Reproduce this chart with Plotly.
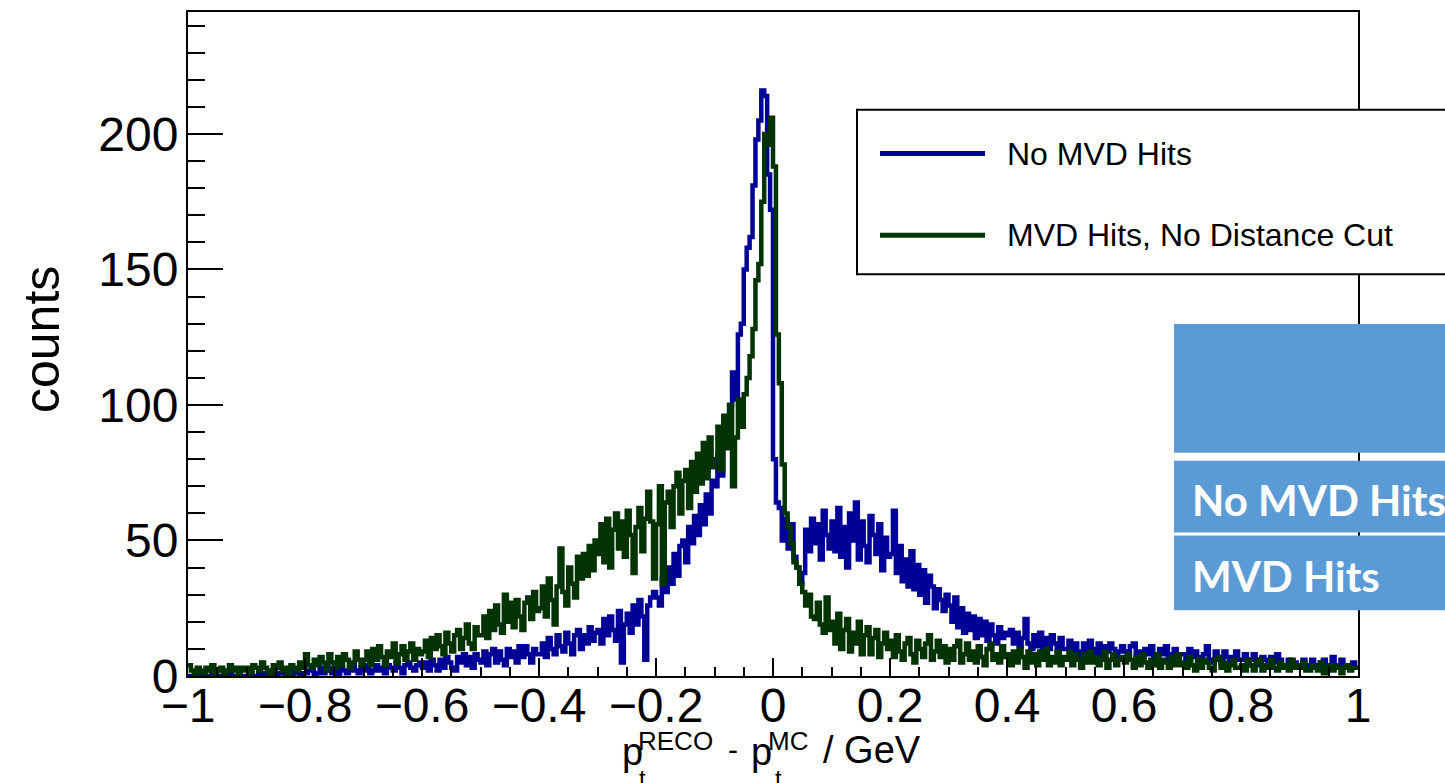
import numpy as np
import plotly.graph_objects as go

# ---------------- data ----------------
X_MIN, X_MAX, N_BINS = -1.0, 1.0, 400

green_counts = [
    4,2,1,3,2,1,3,2,4,1,2,3,1,2,4,2,3,1,3,2,
    3,1,4,3,2,5,3,2,1,4,3,5,2,3,1,4,3,2,5,3,
    8,4,3,6,4,7,5,2,8,5,3,7,4,8,6,3,5,9,6,4,
    6,9,4,10,6,11,7,4,9,7,12,5,8,11,6,9,12,6,10,8,
    9,13,7,14,10,15,11,8,16,12,9,15,17,10,14,19,12,10,18,15,
    15,22,14,24,17,26,19,16,30,20,27,18,28,22,17,27,29,21,31,24,
    25,33,22,36,28,19,33,47,31,26,40,34,29,44,36,45,37,48,39,50,
    45,56,42,58,40,54,60,47,57,44,61,52,38,55,62,46,58,68,57,36,
    56,70,34,64,68,55,70,75,60,72,76,62,79,68,82,71,86,73,88,77,
    80,92,76,96,84,100,70,88,102,92,104,110,118,128,146,152,175,200,196,206,
    188,126,108,78,60,55,49,42,40,34,31,26,30,22,21,27,19,16,29,17,
    20,12,23,10,17,21,9,16,12,20,8,15,18,8,14,17,7,12,16,10,
    13,7,15,9,6,12,14,8,5,13,10,7,12,15,6,9,13,7,11,5,
    10,6,11,13,5,8,12,6,9,5,11,7,4,10,12,6,8,5,11,7,
    8,4,9,5,10,7,3,9,5,8,4,9,6,10,4,7,5,9,4,7,
    6,9,4,8,6,3,8,5,9,5,7,4,6,9,3,6,8,4,6,7,
    5,8,6,3,7,4,8,5,3,6,4,8,3,6,5,3,7,4,8,4,
    5,3,7,4,2,6,3,6,5,3,2,6,7,3,5,2,4,6,3,3,
    4,2,6,4,2,5,6,2,4,3,6,3,2,5,3,4,2,6,3,4,
    3,5,2,2,4,3,2,5,1,3,4,2,4,3,1,3,4,2,3,3,
]

blue_counts = [
    0,0,0,1,0,0,0,0,1,0,0,0,0,0,1,0,0,0,0,0,
    0,1,0,0,1,0,1,0,0,2,0,1,1,0,1,0,2,1,0,1,
    1,2,2,0,1,3,1,2,3,1,2,0,3,2,1,2,4,2,1,3,
    2,4,1,2,4,2,3,1,4,3,2,5,3,1,4,5,3,2,4,5,
    3,5,2,6,4,2,6,3,7,5,3,2,7,5,8,4,7,3,8,6,
    5,9,4,8,10,5,9,6,4,10,7,9,5,11,7,11,8,5,10,8,
    8,12,7,14,10,8,15,11,9,16,12,8,15,17,10,15,12,18,13,16,
    17,12,21,15,22,17,13,24,5,19,23,16,26,19,28,22,6,26,29,31,
    29,26,36,31,40,34,45,37,48,50,42,55,49,59,52,63,56,67,60,72,
    70,82,74,88,92,100,112,102,126,130,150,158,162,181,198,205,216,214,185,172,
    80,64,62,50,58,47,56,44,40,34,38,54,46,58,49,56,43,61,52,47,
    57,46,62,44,55,40,60,50,64,43,57,48,42,59,52,45,56,39,51,44,
    45,61,38,48,35,43,33,46,32,41,30,39,27,37,33,25,32,28,24,30,
    26,20,29,18,25,16,23,17,22,14,21,15,20,13,19,15,12,18,14,16,
    15,17,12,16,11,14,21,12,10,15,11,16,9,14,10,15,12,9,14,10,
    10,13,8,12,9,7,12,8,13,10,8,12,7,11,9,12,10,7,9,11,
    9,7,11,12,7,9,6,10,8,11,7,6,10,8,11,6,8,10,6,8,
    8,6,10,7,9,5,7,8,11,6,5,9,7,5,9,7,5,7,9,6,
    6,8,4,6,8,6,4,7,6,4,7,5,8,6,4,3,6,4,5,4,
    4,6,3,4,6,4,3,5,6,4,3,7,4,3,6,4,4,3,5,3,
]

series_names = ["No MVD Hits", "MVD Hits, No Distance Cut"]
table_labels = ["No MVD Hits", "MVD Hits"]
x_title_parts = ["p", "RECO", "-", "p", "MC", "/ GeV"]
y_title = "counts"

# ---------------- styling ----------------
BLUE = "#000099"
GREEN = "#023302"
TABLE_BLUE = "#5B9BD5"
FONT = "Liberation Sans, Arial, Helvetica, sans-serif"

W, H = 1445, 783
L, R, T, B = 188, 1358, 10, 676


def fx(px):
    return (px - L) / (R - L)


def fy(py):
    return (B - py) / (B - T)


edges = np.linspace(X_MIN, X_MAX, N_BINS + 1)

fig = go.Figure()
for counts, color, name in [(blue_counts, BLUE, series_names[0]),
                            (green_counts, GREEN, series_names[1])]:
    y = list(counts) + [counts[-1]]
    fig.add_trace(go.Scatter(x=edges, y=y, mode="lines", name=name,
                             line=dict(color=color, width=4.5, shape="hv"),
                             showlegend=False, hoverinfo="skip"))

fig.update_layout(
    width=W, height=H,
    margin=dict(l=L, r=W - R, t=T, b=H - B, pad=0),
    paper_bgcolor="white", plot_bgcolor="white",
    font=dict(family=FONT, color="black"),
    showlegend=False,
)

fig.update_xaxes(
    range=[X_MIN, X_MAX], tick0=-1, dtick=0.2,
    ticks="inside", ticklen=18, tickwidth=2, tickcolor="black",
    showline=True, linewidth=2, linecolor="black", mirror=True,
    showgrid=False, zeroline=False,
    tickfont=dict(size=48, family=FONT, color="black"),
    ticklabelstandoff=-14,
    minor=dict(ticks="inside", ticklen=9, tickwidth=2, tickcolor="black",
               dtick=0.05, tick0=-1, showgrid=False),
)
fig.update_yaxes(
    range=[0, 245], tick0=0, dtick=50,
    ticks="inside", ticklen=35, tickwidth=2, tickcolor="black",
    showline=True, linewidth=2, linecolor="black", mirror=True,
    showgrid=False, zeroline=False,
    tickfont=dict(size=48, family=FONT, color="black"),
    ticklabelstandoff=-2,
    minor=dict(ticks="inside", ticklen=17, tickwidth=2, tickcolor="black",
               dtick=10, tick0=0, showgrid=False),
)

shapes = []
annotations = []

# y title
annotations.append(dict(text=y_title, x=fx(42), y=fy(339), xref="paper", yref="paper",
                        xanchor="center", yanchor="middle", textangle=-90,
                        showarrow=False, font=dict(size=50, family=FONT, color="black")))


def txt(s, px, py, size, anchor="left", color="black", family=FONT):
    annotations.append(dict(text=s, x=fx(px), y=fy(py), xref="paper", yref="paper",
                            xanchor=anchor, yanchor="middle", showarrow=False,
                            font=dict(size=size, family=family, color=color)))


# x title pieces
txt(x_title_parts[0], 620, 752, 38)
txt(x_title_parts[1], 636, 741, 26)
txt(x_title_parts[2], 726, 750, 30)
txt(x_title_parts[3], 749, 752, 38)
txt(x_title_parts[4], 766, 741, 26)
txt(x_title_parts[5], 821, 750, 38)
txt("t", 637, 779, 24)
txt("t", 773, 779, 24)

# legend box
shapes.append(dict(type="rect", xref="paper", yref="paper",
                   x0=fx(857), x1=fx(1470), y0=fy(273), y1=fy(108),
                   line=dict(color="black", width=2), fillcolor="white", layer="above"))
for yy, col, name in [(152, BLUE, series_names[0]), (234, GREEN, series_names[1])]:
    shapes.append(dict(type="line", xref="paper", yref="paper",
                       x0=fx(880), x1=fx(985), y0=fy(yy), y1=fy(yy),
                       line=dict(color=col, width=5), layer="above"))
    txt(name, 1005, yy, 32)

# blue table overlay
for y0, y1 in [(323, 452), (460, 532), (535, 610)]:
    shapes.append(dict(type="rect", xref="paper", yref="paper",
                       x0=fx(1174), x1=fx(1470), y0=fy(y1), y1=fy(y0),
                       line=dict(width=0), fillcolor=TABLE_BLUE, layer="above"))
txt("<b>" + table_labels[0] + "</b>", 1190, 499, 42, color="white", family="Lato, Open Sans, sans-serif")
txt("<b>" + table_labels[1] + "</b>", 1190, 576, 42, color="white", family="Lato, Open Sans, sans-serif")

fig.update_layout(shapes=shapes, annotations=annotations)
fig.write_html("out.html")
